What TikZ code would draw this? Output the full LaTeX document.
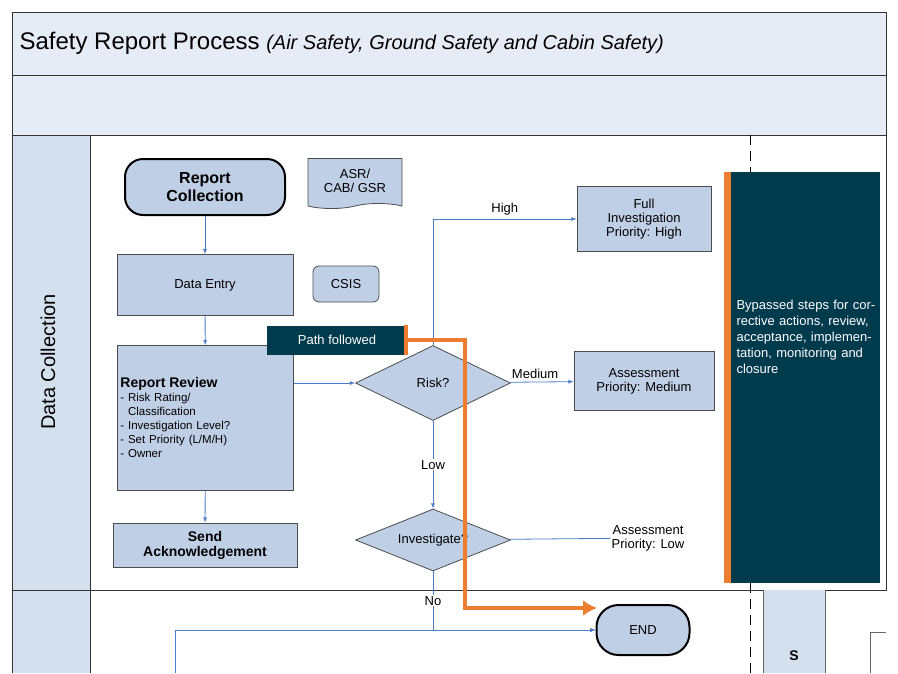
\documentclass[tikz,border=0pt]{standalone}
\usepackage{fontspec}
\setmainfont{Liberation Sans}
\usetikzlibrary{positioning,arrows.meta,shapes.geometric,shapes.symbols}
\tikzset{>=latex}
\definecolor{boxblue}{HTML}{BFD0E6}
\definecolor{laneblue}{HTML}{D5E0EF}
\definecolor{flowblue}{HTML}{4A7CC9}
\definecolor{darkteal}{HTML}{003A4D}
\definecolor{pathorange}{HTML}{ED7D31}

\begin{document}
\begin{tikzpicture}[x=1pt,y=-1pt,
    stage/.style={draw=black!70,thick,fill=boxblue,inner sep=2pt,align=center,font=\fontsize{13}{14}\selectfont},
    term/.style={stage,rounded corners=18pt,line width=2pt,draw=black},
    dec/.style={diamond,stage,aspect=2.1,inner sep=1pt},
    flow/.style={draw=flowblue,thick,->},
    lbl/.style={font=\fontsize{13}{14}\selectfont,fill=white,inner sep=1pt}]
    
    \useasboundingbox (0,0) rectangle (898,673);
    
    %frame: title band, second band and the two lanes
    \fill[laneblue!60] (12,12) rectangle (886,135);
    \draw[black!80,thick] (12,12) rectangle (886,75) (12,75) rectangle (886,135);
    \node[anchor=west,font=\fontsize{24}{26}\selectfont] (title) at (16,43)
        {Safety Report Process \textit{\fontsize{20}{22}\selectfont(Air Safety, Ground Safety and Cabin Safety)}};
    \fill[laneblue] (12,135) rectangle (90,673);
    \draw[black!80,thick] (12,135) rectangle (886,590) (12,590) -- (886,590);
    \draw[black!80,thick] (90,135) -- (90,673) (12,590) -- (12,673);
    \node[rotate=90,font=\fontsize{20}{22}\selectfont] (lane) at (48,362) {Data Collection};
    \draw[black,thick,dash pattern=on 10pt off 6pt] (750,135) -- (750,673);
    \fill[laneblue] (763,590) rectangle (825,673);
    \draw[black!60] (763,590) -- (763,673) (825,590) -- (825,673) (870,632) -- (886,632) (870,632) -- (870,673);
    \node[font=\bfseries\fontsize{14}{14}\selectfont] (swim) at (794,656) {S};
    
    %stages
    \node[term,minimum width=160pt,minimum height=56pt,font=\bfseries\fontsize{16}{18}\selectfont] (collect) at (205,187) {Report\\Collection};
    \node[stage,tape,tape bend top=none,minimum width=94pt,minimum height=50pt] (asr) at (355,181) {ASR/\\CAB/ GSR};
    \node[stage,minimum width=176pt,minimum height=61pt] (entry) at (205,285) {Data Entry};
    \node[stage,rounded corners=6pt,minimum width=66pt,minimum height=36pt] (csis) at (346,284) {CSIS};
    \node[stage,minimum width=176pt,minimum height=145pt,align=left,anchor=north west,
          font=\fontsize{11.5}{14}\selectfont,text width=170pt] (review) at (117,345)
        {{\bfseries\fontsize{14}{15}\selectfont Report Review}\\- Risk Rating/\\\ \ Classification\\- Investigation Level?\\- Set Priority (L/M/H)\\- Owner\\[12pt]};
    \node[stage,minimum width=184pt,minimum height=44pt,font=\bfseries\fontsize{14}{15}\selectfont] (ack) at (205,545) {Send\\Acknowledgement};
    \node[dec,minimum width=155pt,minimum height=75pt] (risk) at (433,383) {Risk?};
    \node[dec,minimum width=155pt,minimum height=62pt] (invest) at (433,540) {Investigate?};
    \node[stage,minimum width=134pt,minimum height=65pt,font=\fontsize{13}{14}\selectfont] (full) at (644,219) {Full\\Investigation\\Priority: High};
    \node[stage,minimum width=140pt,minimum height=59pt] (medium) at (644,381) {Assessment\\Priority: Medium};
    \node[lbl,align=center] (low) at (648,538) {Assessment\\Priority: Low};
    \node[term,minimum width=93pt,minimum height=50pt,rounded corners=22pt] (end) at (643,630) {END};
    \coordinate (free) at (175,673);
    \coordinate (endin) at (597,608);
    
    %connectors
    \draw[flow] (collect) -- (entry);
    \draw[flow] (entry) -- (review);
    \draw[flow] (review) -- (ack);
    \draw[flow] (review.east |- risk) -- (risk);
    \draw[flow] (risk.north) |- node[lbl,pos=0.75,above=2pt] {High} (full);
    \draw[flow] (risk) -- node[lbl,pos=0.4,above=2pt] {Medium} (medium);
    \draw[flow] (risk) -- node[lbl] {Low} (invest);
    \draw[draw=flowblue,thick] (invest) -- (low);
    \draw[flow] (invest.south) -- node[lbl,pos=0.5] {No} (invest.south |- end) -- (end);
    \draw[flow] (free) |- (end);
    
    %overlay: bypassed steps and path followed
    \fill[darkteal] (724,172) rectangle (880,583);
    \fill[pathorange] (724,172) rectangle (731,583);
    \node[anchor=north west,align=left,text width=140pt,text=white,font=\fontsize{13}{16}\selectfont] (bypass) at (733,297)
        {Bypassed steps for corrective actions, review, acceptance, implementation, monitoring and closure};
    \node[fill=darkteal,text=white,minimum width=141pt,minimum height=29pt,font=\fontsize{13}{14}\selectfont] (path) at (337,340) {Path followed};
    \fill[pathorange] (path.north east) rectangle ([xshift=-4pt]path.south east);
    \draw[pathorange,line width=3.5pt,-{Latex[length=14pt,width=16pt]}] (path.east) -| (465,608) -- (endin);
\end{tikzpicture}
\end{document}
